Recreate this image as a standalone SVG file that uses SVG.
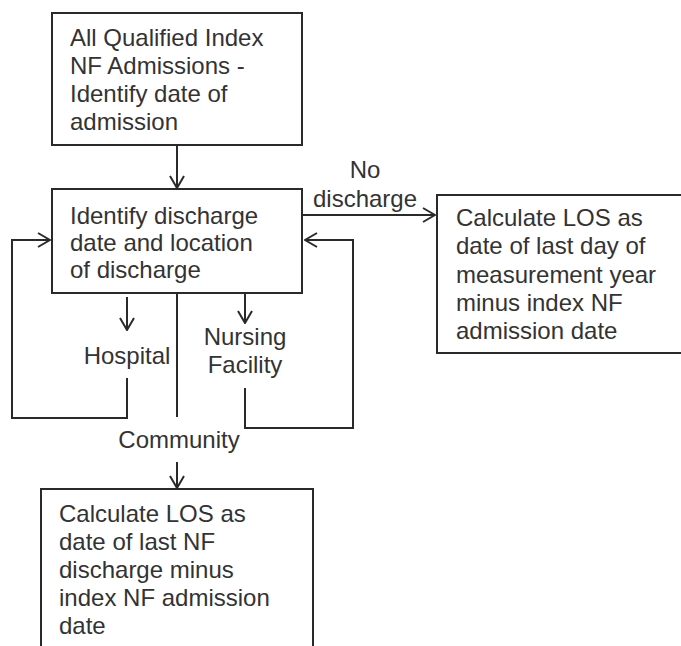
<svg xmlns="http://www.w3.org/2000/svg" width="681" height="646" viewBox="0 0 681 646">
<defs>
<style>
.box{fill:#fff;stroke:#2a2a2a;stroke-width:2}
.t{font-family:"Liberation Sans",Arial,sans-serif;font-size:24px;fill:#333}
.c{fill:none;stroke:#2a2a2a;stroke-width:2}
</style>
<marker id="ah" viewBox="0 0 14 16" refX="13" refY="8" markerWidth="14" markerHeight="16" markerUnits="userSpaceOnUse" orient="auto">
<path d="M1,1 L13,8 L1,15" fill="none" stroke="#2a2a2a" stroke-width="2"/>
</marker>
</defs>
<rect width="681" height="646" fill="#fff"/>
<g id="connectors">
<path class="c" d="M177,145 L177,188" marker-end="url(#ah)"/>
<path class="c" d="M302,215 L435,215" marker-end="url(#ah)"/>
<path class="c" d="M127,297 L127,330" marker-end="url(#ah)"/>
<path class="c" d="M127,378 L127,418 L12,418 L12,240 L50,240" marker-end="url(#ah)"/>
<path class="c" d="M245,293 L245,323" marker-end="url(#ah)"/>
<path class="c" d="M245,388 L245,428 L353,428 L353,240 L305,240" marker-end="url(#ah)"/>
<path class="c" d="M177,293 L177,417"/>
<path class="c" d="M177,462 L177,488" marker-end="url(#ah)"/>
</g>
<g id="n1">
<rect class="box" x="52" y="13" width="250" height="132"/>
<text class="t" x="70" y="46">All Qualified Index</text>
<text class="t" x="70" y="74">NF Admissions -</text>
<text class="t" x="70" y="102">Identify date of</text>
<text class="t" x="70" y="130">admission</text>
</g>
<g id="n2">
<rect class="box" x="52" y="189" width="250" height="104"/>
<text class="t" x="70" y="224">Identify discharge</text>
<text class="t" x="70" y="251">date and location</text>
<text class="t" x="70" y="278">of discharge</text>
</g>
<g id="n3">
<rect class="box" x="437" y="195" width="270" height="158"/>
<text class="t" x="456" y="226">Calculate LOS as</text>
<text class="t" x="456" y="254">date of last day of</text>
<text class="t" x="456" y="283">measurement year</text>
<text class="t" x="456" y="311">minus index NF</text>
<text class="t" x="456" y="339">admission date</text>
</g>
<g id="n4">
<rect class="box" x="41" y="489" width="272" height="180"/>
<text class="t" x="59" y="522">Calculate LOS as</text>
<text class="t" x="59" y="550">date of last NF</text>
<text class="t" x="59" y="578">discharge minus</text>
<text class="t" x="59" y="606">index NF admission</text>
<text class="t" x="59" y="634">date</text>
</g>
<g id="labels">
<text class="t" x="365" y="178" text-anchor="middle">No</text>
<text class="t" x="365" y="207" text-anchor="middle">discharge</text>
<text class="t" x="127" y="364" text-anchor="middle">Hospital</text>
<text class="t" x="245" y="345" text-anchor="middle">Nursing</text>
<text class="t" x="245" y="373" text-anchor="middle">Facility</text>
<text class="t" x="179" y="448" text-anchor="middle">Community</text>
</g>
</svg>
